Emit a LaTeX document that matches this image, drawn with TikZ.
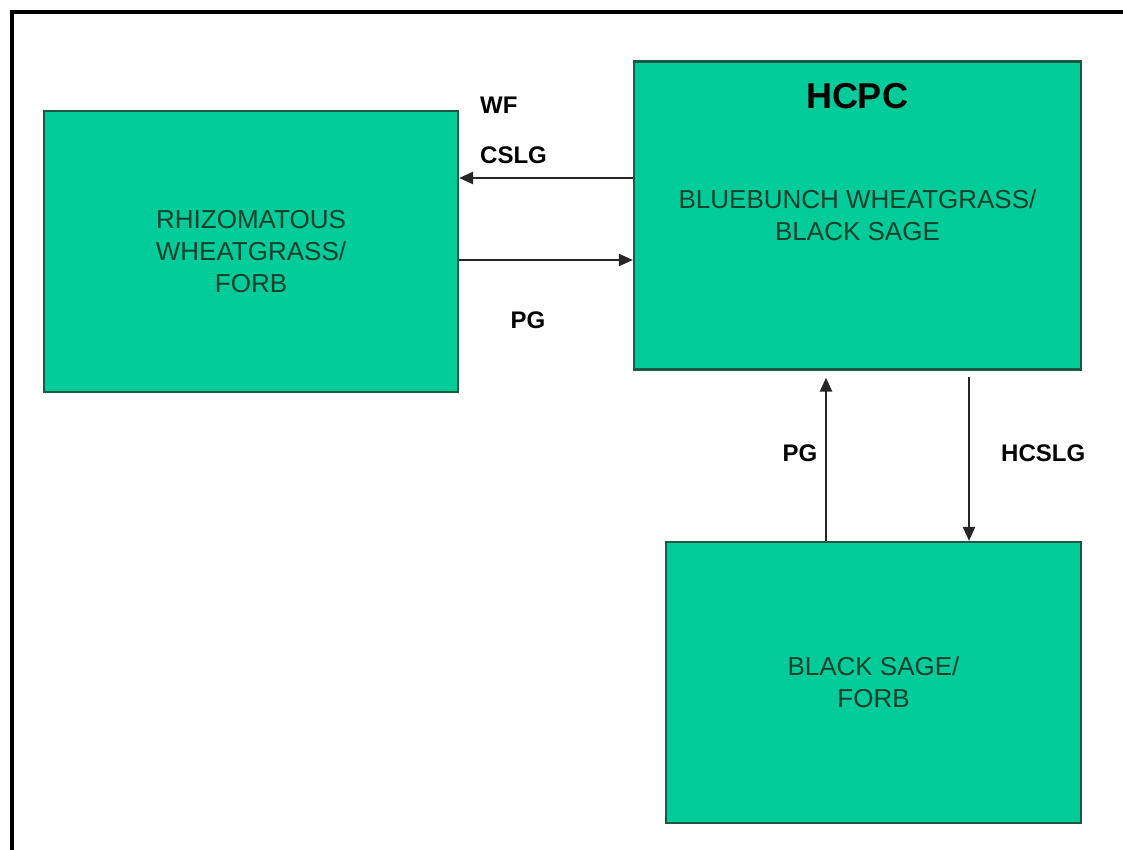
\documentclass[tikz,border=0pt]{standalone}
\usepackage{fontspec}
\setmainfont{Liberation Sans}
\usepackage{tikz}
\usetikzlibrary{positioning,arrows.meta}
\definecolor{sagefill}{RGB}{0,204,153}
\definecolor{sageline}{RGB}{28,88,66}
\definecolor{sagetext}{RGB}{24,64,46}

\begin{document}
\begin{tikzpicture}[x=1pt, y=-1pt,
  state/.style={draw=sageline, line width=2.2pt, fill=sagefill, align=center, text=sagetext, inner sep=0pt,
    font=\fontsize{26}{32}\selectfont},
  lbl/.style={font=\fontsize{24}{28}\selectfont\bfseries, inner sep=1pt},
  arr/.style={-{Triangle[length=14pt, width=12pt]}, line width=2.2pt, draw=black!85}]
\useasboundingbox (0,0) rectangle (1123,850);
\clip (0,0) rectangle (1123,850);
\draw[line width=4pt] (12,870) -- (12,12) -- (1140,12);
\node[state, minimum width=414pt, minimum height=281pt] (rhiz) at (251,251.5) {RHIZOMATOUS\\WHEATGRASS/\\FORB};
\node[state, minimum width=447pt, minimum height=308pt] (hcpc) at (857.5,215.5) {BLUEBUNCH WHEATGRASS/\\BLACK SAGE};
\node[font=\fontsize{36}{40}\selectfont\bfseries] (title) at (857,96) {HCPC};
\node[state, minimum width=415pt, minimum height=281pt] (sage) at (873.5,682.5) {BLACK SAGE/\\FORB};
% labels
\node[lbl, anchor=west] (wf) at (479,105) {WF};
\node[lbl, anchor=west] (cslg) at (479,155) {CSLG};
\node[lbl] (pg1) at (528,320) {PG};
\node[lbl] (pg2) at (800,453) {PG};
\node[lbl, anchor=west] (hcslg) at (1000,453) {HCSLG};
% transitions
\draw[arr] (hcpc.west |- 0,178) -- (rhiz.east |- 0,178);
\draw[arr] (rhiz.east |- 0,260) -- (hcpc.west |- 0,260);
\draw[arr, shorten >=7pt] (sage.north -| 826,0) -- (hcpc.south -| 826,0);
\draw[arr, shorten <=6pt] (hcpc.south -| 969,0) -- (sage.north -| 969,0);
\end{tikzpicture}
\end{document}
